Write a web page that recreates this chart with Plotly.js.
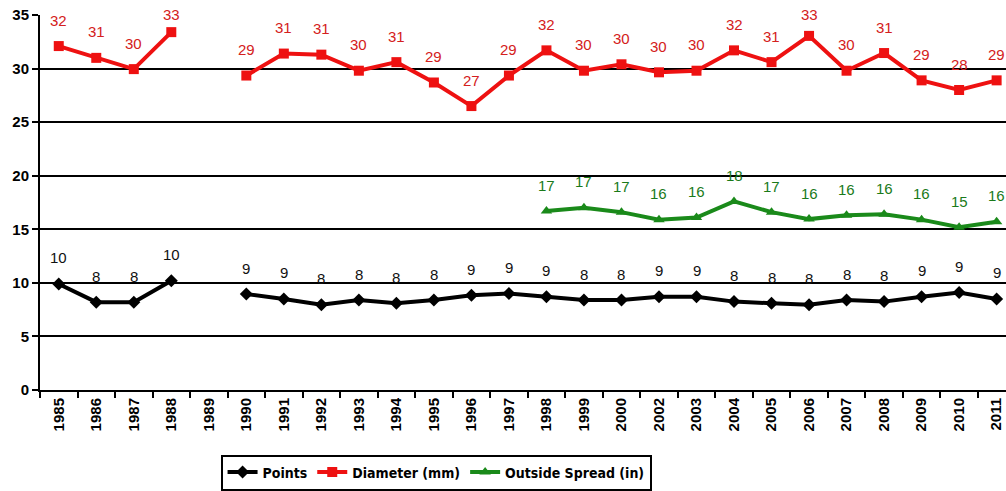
<!DOCTYPE html>
<html>
<head>
<meta charset="utf-8">
<script src="https://cdn.plot.ly/plotly-3.0.1.min.js"></script>
<style>
  html, body { margin: 0; padding: 0; background: #fff; }
  #chart { width: 1006px; height: 491px; }
</style>
</head>
<body>
<div id="chart"></div>
<script>
const years = ['1985','1986','1987','1988','1989','1990','1991','1992','1993','1994','1995','1996','1997','1998','1999','2000','2002','2003','2004','2005','2006','2007','2008','2009','2010','2011'];

const points = [9.9, 8.2, 8.2, 10.2, null, 8.95, 8.5, 7.95, 8.4, 8.1, 8.4, 8.85, 9.0, 8.7, 8.4, 8.4, 8.7, 8.7, 8.25, 8.1, 7.95, 8.4, 8.25, 8.7, 9.1, 8.5];
const pointsLabels = ['10','8','8','10','','9','9','8','8','8','8','9','9','9','8','8','9','9','8','8','8','8','8','9','9','9'];

const diameter = [32.1, 31.0, 29.95, 33.4, null, 29.35, 31.4, 31.3, 29.8, 30.6, 28.7, 26.5, 29.35, 31.7, 29.8, 30.4, 29.65, 29.8, 31.7, 30.6, 33.05, 29.8, 31.45, 28.9, 28.0, 28.9];
const diameterLabels = ['32','31','30','33','','29','31','31','30','31','29','27','29','32','30','30','30','30','32','31','33','30','31','29','28','29'];

const spread = [null, null, null, null, null, null, null, null, null, null, null, null, null, 16.7, 17.0, 16.6, 15.9, 16.1, 17.6, 16.6, 15.95, 16.3, 16.4, 15.9, 15.2, 15.7];
const spreadLabels = ['','','','','','','','','','','','','','17','17','17','16','16','18','17','16','16','16','16','15','16'];

const yTicks = [0, 5, 10, 15, 20, 25, 30, 35];

const BLACK = '#000000';
const RED = '#ee1111';
const GREEN = '#1a8a1a';

const traces = [
  {
    name: 'Points', x: years, y: points, type: 'scatter', mode: 'lines+markers',
    connectgaps: false,
    line: { color: BLACK, width: 4 },
    marker: { color: BLACK, symbol: 'diamond', size: 10 }
  },
  {
    name: 'Diameter (mm)', x: years, y: diameter, type: 'scatter', mode: 'lines+markers',
    connectgaps: false,
    line: { color: RED, width: 4 },
    marker: { color: RED, symbol: 'square', size: 10 }
  },
  {
    name: 'Outside Spread (in)', x: years, y: spread, type: 'scatter', mode: 'lines+markers',
    connectgaps: false,
    line: { color: GREEN, width: 4 },
    marker: { color: GREEN, symbol: 'triangle-up', size: 10 }
  }
];

const plotTopPx = 15, plotBottomPx = 393;
const pxPerUnit = (plotBottomPx - plotTopPx) / 35;
const annotations = [];
function addLabels(vals, labels, color) {
  vals.forEach((v, i) => {
    if (v === null || labels[i] === '') return;
    const room = (35 - v) * pxPerUnit;
    annotations.push({
      x: i, y: v, xref: 'x', yref: 'y', text: labels[i], showarrow: false,
      yshift: Math.min(26, room),
      font: { family: 'Liberation Sans, Arial, sans-serif', size: 15, color: color }
    });
  });
}
addLabels(points, pointsLabels, '#111111');
addLabels(diameter, diameterLabels, '#d42020');
addLabels(spread, spreadLabels, '#1a7a1a');

const layout = {
  width: 1006, height: 491,
  margin: { l: 40, r: 0, t: plotTopPx, b: 491 - plotBottomPx },
  paper_bgcolor: '#ffffff', plot_bgcolor: '#ffffff',
  showlegend: true,
  legend: {
    orientation: 'h', x: 0.41, xanchor: 'center', y: -0.172, yanchor: 'top',
    bordercolor: '#000000', borderwidth: 2, bgcolor: '#ffffff',
    font: { family: 'Liberation Sans Narrow, Arial Narrow, DejaVu Sans Condensed, sans-serif', size: 14, color: '#000', weight: 'bold' },
    tracegroupgap: 0
  },
  xaxis: {
    type: 'category', range: [-0.5, 25.25],
    showline: true, linecolor: '#000', linewidth: 2,
    ticks: 'outside', tickson: 'boundaries', ticklen: 6, tickwidth: 2, tickcolor: '#000',
    tickangle: -90, showgrid: false, zeroline: false,
    tickfont: { family: 'Liberation Sans, Arial, sans-serif', size: 15, color: '#000', weight: 'bold' }
  },
  yaxis: {
    range: [0, 35], tickvals: yTicks, ticktext: yTicks.map(String),
    showline: true, linecolor: '#000', linewidth: 2,
    ticks: 'outside', ticklen: 6, tickwidth: 2, tickcolor: '#000',
    showgrid: true, gridcolor: '#000', gridwidth: 2, zeroline: false,
    tickfont: { family: 'Liberation Sans, Arial, sans-serif', size: 15, color: '#000', weight: 'bold' }
  },
  annotations: annotations
};

Plotly.newPlot('chart', traces, layout, { displayModeBar: false, staticPlot: true });
</script>
</body>
</html>
